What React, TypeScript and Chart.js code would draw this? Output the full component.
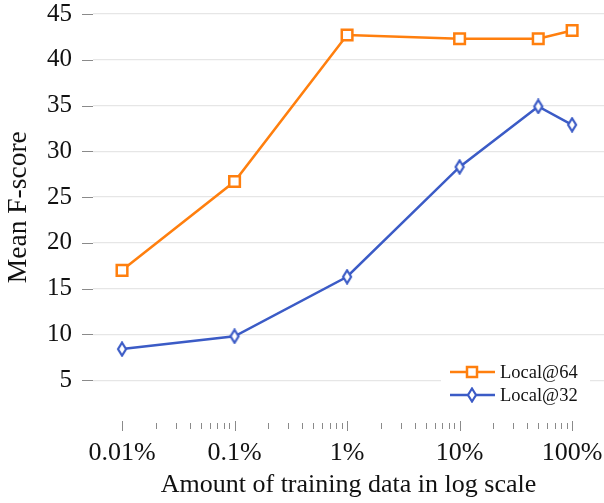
import React, { useEffect, useRef } from "react";
import { Chart, registerables } from "chart.js";

Chart.register(...registerables);

const xValues = [0.01, 0.1, 1, 10, 50, 100];
const local64 = [17.0, 26.7, 42.7, 42.3, 42.3, 43.2];
const local32 = [8.4, 9.8, 16.3, 28.3, 34.9, 32.9];
const seriesNames = ["Local@64", "Local@32"];
const xTickValues = [0.01, 0.1, 1, 10, 100];
const xTickLabels = ["0.01%", "0.1%", "1%", "10%", "100%"];
const yTickValues = [5, 10, 15, 20, 25, 30, 35, 40, 45];
const yTitle = "Mean F-score";
const xTitle = "Amount of training data in log scale";

const ORANGE = "#ff7f0e";
const BLUE = "#3b5bc6";
const FONT = "'Liberation Serif', 'Times New Roman', serif";

function makeDiamond(color: string): HTMLCanvasElement {
  const c = document.createElement("canvas");
  const w = 12;
  const h = 16;
  c.width = w;
  c.height = h;
  const ctx = c.getContext("2d")!;
  ctx.beginPath();
  ctx.moveTo(w / 2, 1.5);
  ctx.lineTo(w - 2, h / 2);
  ctx.lineTo(w / 2, h - 1.5);
  ctx.lineTo(2, h / 2);
  ctx.closePath();
  ctx.fillStyle = "#ffffff";
  ctx.fill();
  ctx.lineWidth = 2.2;
  ctx.strokeStyle = color;
  ctx.stroke();
  return c;
}

export default function App() {
  const ref = useRef<HTMLCanvasElement | null>(null);

  useEffect(() => {
    document.body.style.margin = "0";
    const canvas = ref.current;
    if (!canvas) return;
    Chart.defaults.font.family = FONT;
    const diamond = makeDiamond(BLUE);

    const tickMarks = {
      id: "tickMarks",
      afterDraw(chart: any) {
        const ctx = chart.ctx;
        const xs = chart.scales.x;
        const ys = chart.scales.y;
        const y0 = ys.getPixelForValue(0);
        ctx.save();
        ctx.strokeStyle = "#8a8a8a";
        ctx.lineWidth = 1;
        for (const d of xTickValues) {
          const px = Math.round(xs.getPixelForValue(d)) + 0.5;
          ctx.beginPath();
          ctx.moveTo(px, y0 - 5);
          ctx.lineTo(px, y0 + 5);
          ctx.stroke();
          if (d < 100) {
            for (let k = 2; k <= 9; k++) {
              const mx = Math.round(xs.getPixelForValue(d * k)) + 0.5;
              ctx.beginPath();
              ctx.moveTo(mx, y0 - 3);
              ctx.lineTo(mx, y0 + 3);
              ctx.stroke();
            }
          }
        }
        for (const v of yTickValues) {
          const py = Math.round(ys.getPixelForValue(v)) + 0.5;
          ctx.beginPath();
          ctx.moveTo(chart.chartArea.left - 11, py);
          ctx.lineTo(chart.chartArea.left, py);
          ctx.stroke();
        }
        ctx.restore();

        // y-axis title
        ctx.save();
        ctx.translate(19, ys.getPixelForValue(23.9));
        ctx.rotate(-Math.PI / 2);
        ctx.fillStyle = "#111";
        ctx.font = `27.5px ${FONT}`;
        ctx.textAlign = "center";
        ctx.textBaseline = "middle";
        ctx.fillText(yTitle, 0, 0);
        ctx.restore();

        // legend
        const boxL = 441;
        const boxR = 590;
        const rows = [372, 395];
        ctx.save();
        ctx.fillStyle = "#ffffff";
        ctx.fillRect(boxL, rows[0] - 11, boxR - boxL, rows[1] - rows[0] + 22);
        chart.data.datasets.forEach((ds: any, i: number) => {
          const ry = rows[i];
          ctx.strokeStyle = ds.borderColor;
          ctx.lineWidth = 2.5;
          ctx.beginPath();
          ctx.moveTo(450, ry);
          ctx.lineTo(495, ry);
          ctx.stroke();
          if (i === 0) {
            ctx.fillStyle = "#fff";
            ctx.fillRect(467, ry - 5, 10, 10);
            ctx.strokeRect(467, ry - 5, 10, 10);
          } else {
            ctx.drawImage(diamond, 472 - diamond.width / 2, ry - diamond.height / 2);
          }
          ctx.fillStyle = "#111";
          ctx.font = `18.5px ${FONT}`;
          ctx.textBaseline = "middle";
          ctx.textAlign = "left";
          ctx.fillText(ds.label, 500, ry + 1);
        });
        ctx.restore();
      },
    };

    const chart = new Chart(canvas, {
      type: "line",
      data: {
        datasets: [
          {
            label: seriesNames[0],
            data: xValues.map((x, i) => ({ x, y: local64[i] })),
            borderColor: ORANGE,
            backgroundColor: "#ffffff",
            borderWidth: 2.5,
            pointStyle: "rect",
            pointRadius: 7.5,
            pointBorderWidth: 2.5,
            pointBackgroundColor: "#ffffff",
            pointBorderColor: ORANGE,
            tension: 0,
          },
          {
            label: seriesNames[1],
            data: xValues.map((x, i) => ({ x, y: local32[i] })),
            borderColor: BLUE,
            backgroundColor: "#ffffff",
            borderWidth: 2.5,
            pointStyle: diamond as any,
            pointRadius: 7,
            tension: 0,
          },
        ],
      },
      options: {
        animation: false,
        responsive: true,
        maintainAspectRatio: false,
        layout: { autoPadding: false, padding: { top: 14, right: 0, left: 0, bottom: 0 } },
        plugins: {
          legend: { display: false },
          tooltip: { enabled: false },
        },
        scales: {
          x: {
            type: "logarithmic",
            min: 0.00552,
            max: 192,
            afterBuildTicks: (scale: any) => {
              scale.ticks = xTickValues.map((v) => ({ value: v }));
            },
            afterFit: (scale: any) => {
              scale.height = 77;
              scale.paddingLeft = 0;
              scale.paddingRight = 0;
            },
            grid: { display: false },
            border: { display: false },
            ticks: {
              autoSkip: false,
              maxRotation: 0,
              padding: 4,
              color: "#111",
              font: { family: FONT, size: 26 },
              callback: (value: any) => {
                const idx = xTickValues.indexOf(Number(value));
                return idx >= 0 ? xTickLabels[idx] : "";
              },
            },
            title: {
              display: true,
              text: xTitle,
              color: "#111",
              font: { family: FONT, size: 26 },
              padding: { top: 0, bottom: 2 },
            },
          },
          y: {
            min: 0,
            max: 45,
            afterBuildTicks: (scale: any) => {
              scale.ticks = yTickValues.map((v) => ({ value: v }));
            },
            afterFit: (scale: any) => {
              scale.width = 93;
              scale.paddingTop = 0;
              scale.paddingBottom = 0;
            },
            grid: { color: "#e6e6e6", lineWidth: 1.3, drawTicks: false },
            border: { display: false },
            ticks: {
              padding: 21,
              color: "#111",
              font: { family: FONT, size: 25 },
            },
            title: { display: false },
          },
        },
      },
      plugins: [tickMarks],
    });
    return () => chart.destroy();
  }, []);

  return (
    <div style={{ width: 604, height: 503, position: "relative" }}>
      <canvas ref={ref} />
    </div>
  );
}
